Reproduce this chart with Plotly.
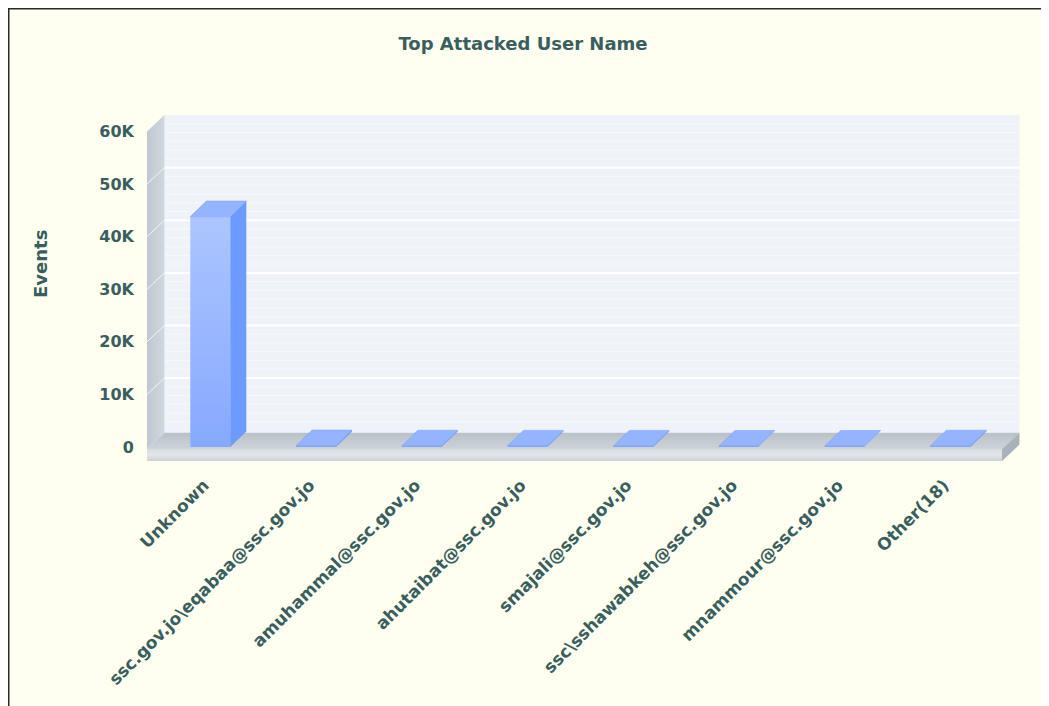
import plotly.graph_objects as go

# ---------------- data ----------------
categories = [
    "Unknown",
    "ssc.gov.jo\\eqabaa@ssc.gov.jo",
    "amuhammal@ssc.gov.jo",
    "ahutaibat@ssc.gov.jo",
    "smajali@ssc.gov.jo",
    "ssc\\sshawabkeh@ssc.gov.jo",
    "mnammour@ssc.gov.jo",
    "Other(18)",
]
events = [43800, 260, 230, 210, 200, 190, 180, 240]
y_tick_values = [0, 10000, 20000, 30000, 40000, 50000, 60000]
y_tick_labels = ["0", "10K", "20K", "30K", "40K", "50K", "60K"]

# ---------------- geometry / style ----------------
# the page body has an 8px margin, so the figure is drawn at (8, 8)
W, H = 1041, 698
ML, MR, MT, MB = 139, 29, 106, 245
X_RANGE = [-0.5985, 7.659]
Y_RANGE = [-2662, 63308]
LABEL_SHIFT = 0.06              # rotated labels sit slightly left of the bar centres

XL, XR = -0.5985, 7.489         # floor front left / right
DXF, DYF = 0.165, 3100          # depth of floor / walls
FLOOR_TOP = -381
FLOOR_BOT = -2640
WALL_TOP = y_tick_values[-1] + DYF
HALF = 0.189                    # bar half width
DXB, DYB = 0.152, 2950          # bar depth

TEXT = "#3a5e5e"
FONT = "DejaVu Sans"
BG = "#fefff0"

fig = go.Figure()


def poly(xs, ys, color=None, gradient=None, line_color=None, lw=0):
    kw = dict(x=xs, y=ys, mode="lines", fill="toself", hoverinfo="skip",
              showlegend=False,
              line=dict(width=lw, color=line_color or "rgba(0,0,0,0)"))
    if gradient is not None:
        kw["fillgradient"] = gradient
    else:
        kw["fillcolor"] = color
    fig.add_trace(go.Scatter(**kw))


def line(xs, ys, color, width):
    fig.add_trace(go.Scatter(x=xs, y=ys, mode="lines", hoverinfo="skip",
                             showlegend=False,
                             line=dict(color=color, width=width)))


# back wall
bx0, bx1 = XL + DXF, XR + DXF
poly([bx0, bx1, bx1, bx0, bx0], [FLOOR_TOP + DYF, FLOOR_TOP + DYF, WALL_TOP, WALL_TOP, FLOOR_TOP + DYF],
     color="#eff2f8")
# minor grid lines on back wall
step = y_tick_values[1] - y_tick_values[0]
mx, my = [], []
for v in y_tick_values[:-1]:
    for k in range(1, 6):
        yy = v + step * k / 6 + DYF
        mx += [bx0, bx1, None]
        my += [yy, yy, None]
line(mx, my, "#f7f8fc", 1)
# major grid lines on back wall
gx, gy = [], []
for v in y_tick_values[1:-1]:
    gx += [bx0, bx1, None]
    gy += [v + DYF, v + DYF, None]
line(gx, gy, "#ffffff", 2)

# left wall
poly([XL, XL, bx0, bx0, XL], [FLOOR_TOP, y_tick_values[-1], WALL_TOP, FLOOR_TOP + DYF, FLOOR_TOP],
     gradient=dict(type="horizontal", start=XL, stop=bx0,
                   colorscale=[[0, "#bfc8d0"], [1, "#d0d7de"]]))
dx_, dy_ = [], []
for v in y_tick_values[1:-1]:
    dx_ += [XL, bx0, None]
    dy_ += [v, v + DYF, None]
line(dx_, dy_, "#f2f5f8", 1)

# floor top
poly([XL, XR, bx1, bx0, XL], [FLOOR_TOP, FLOOR_TOP, FLOOR_TOP + DYF, FLOOR_TOP + DYF, FLOOR_TOP],
     gradient=dict(type="vertical", start=FLOOR_TOP, stop=FLOOR_TOP + DYF,
                   colorscale=[[0, "#cdd3d8"], [1, "#b9c1c8"]]))
# floor front face
poly([XL, XR, XR, XL, XL], [FLOOR_BOT, FLOOR_BOT, FLOOR_TOP, FLOOR_TOP, FLOOR_BOT],
     gradient=dict(type="vertical", start=FLOOR_BOT, stop=FLOOR_TOP,
                   colorscale=[[0, "#cdd2d7"], [0.55, "#e3e6e9"], [1, "#d8dce0"]]))
# floor right side
poly([XR, bx1, bx1, XR, XR], [FLOOR_TOP, FLOOR_TOP + DYF, FLOOR_BOT + DYF, FLOOR_BOT, FLOOR_TOP],
     color="#a9b2b9")

# bars: front, side and top faces
fx, fy, sx, sy, tx, ty = [], [], [], [], [], []
for i, v in enumerate(events):
    a, b = i - HALF, i + HALF
    fx += [a, b, b, a, a, None]
    fy += [0, 0, v, v, 0, None]
    sx += [b, b + DXB, b + DXB, b, b, None]
    sy += [0, DYB, v + DYB, v, 0, None]
    tx += [a, b, b + DXB, a + DXB, a, None]
    ty += [v, v, v + DYB, v + DYB, v, None]

poly(fx, fy, gradient=dict(type="vertical", start=0, stop=max(events),
                           colorscale=[[0, "#86a8ff"], [1, "#adc6ff"]]))
poly(sx, sy, color="#6c9aff")
poly(tx, ty, color="#95b4ff", line_color="#7aa2ff", lw=0.6)

# invisible carrier for the category label axis
fig.add_trace(go.Scatter(x=list(range(len(categories))), y=events, xaxis="x2",
                         mode="markers", marker=dict(opacity=0), hoverinfo="skip",
                         showlegend=False))


# ---------------- axes / layout ----------------
def px_x(p):
    return (p - ML) / (W - ML - MR)


def px_y(p):
    return (H - MB - p) / (H - MT - MB)


fig.update_layout(
    width=W, height=H,
    margin=dict(l=ML, r=MR, t=MT, b=MB, pad=0),
    paper_bgcolor=BG, plot_bgcolor="rgba(0,0,0,0)",
    title=dict(text="Top Attacked User Name", x=515 / W, xref="container",
               xanchor="center", y=1 - 36 / H, yref="container", yanchor="middle",
               font=dict(family=FONT, size=18, weight="bold", color=TEXT)),
    xaxis=dict(range=X_RANGE, showticklabels=False, showgrid=False, zeroline=False,
               showline=False, ticks="", fixedrange=True),
    xaxis2=dict(range=[X_RANGE[0] + LABEL_SHIFT, X_RANGE[1] + LABEL_SHIFT],
                overlaying="x", side="bottom", anchor="y",
                tickvals=list(range(len(categories))), ticktext=categories,
                tickangle=-45, showgrid=False, zeroline=False, showline=False, ticks="",
                ticklabelstandoff=10,
                tickfont=dict(family=FONT, size=17, weight="bold", color=TEXT),
                fixedrange=True),
    yaxis=dict(range=Y_RANGE, tickvals=y_tick_values, ticktext=y_tick_labels,
               showgrid=False, zeroline=False, showline=False, ticks="",
               ticklabelstandoff=12,
               tickfont=dict(family=FONT, size=16, weight="bold", color=TEXT),
               fixedrange=True),
    annotations=[dict(text="Events", textangle=-90, xref="paper", yref="paper",
                      x=px_x(32), y=px_y(256), xanchor="center", yanchor="middle",
                      showarrow=False,
                      font=dict(family=FONT, size=18, weight="bold", color=TEXT))],
    shapes=[dict(type="path", xref="paper", yref="paper",
                 path=f"M {px_x(0.5)},{px_y(H + 20)} L {px_x(0.5)},{px_y(0.5)} L {px_x(W + 20)},{px_y(0.5)}",
                 line=dict(color="#2a2a2a", width=2), layer="above")],
)

fig.write_html("out.html", post_script="document.body.style.overflow = 'hidden';")
